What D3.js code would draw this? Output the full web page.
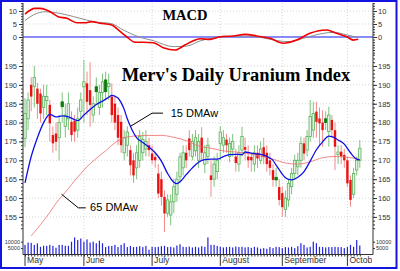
<!DOCTYPE html>
<html>
<head>
<meta charset="utf-8">
<script src="https://cdn.jsdelivr.net/npm/d3@7"></script>
<style>
  body { margin: 0; background: #fff; }
  svg { display: block; }
</style>
</head>
<body>
<div id="chart"></div>
<script>
// daily bars, one entry per trading day (May .. early October)
const open  = [175.8,181,190,189.5,189,187.7,184,185.8,184.7,176.7, 177.1,176,184.2,179,181,180.2,180.5,178,183,189.5,
               190.4,188.6,182,188.2,184,188,188.2,189.5,186.9,185, 182,180.2,172,174,172.7,170,168,170,172,173,
               174,171.8,170.9,166.5,165,160.3,156,155.5,159,161, 165.6,168,172,175.8,171,172.5,170,176,169,171,
               166,165,167,174.5,174,175.5,171,173,171,169, 172.7,173.5,171,170.9,169,172,170,173.5,172,170,
               167.4,164.8,162.9,161.3,157,159.5,163,166.5,168.3,170, 174.5,172.7,176.3,178,182.9,181.1,180,180,177.6,180.7,
               178,171.5,172.3,171.4,170,164.8,161,167.4,170];
const high  = [186.5,188,192,195,190.5,189,190,190,186,179, 180,182,188,185,188,183,182,184,188,196.6,
               193.5,196,187,192,190,193,193.5,193,190.4,187, 184,182,178,179,174,172,174,178,177.5,178,
               176,174,172,169,167,162,161,161,165,167, 172,174,174,178,177,178,177,178.8,174,176,
               170,171,172,179,178,177,176,177,173,174, 178.9,176,174,172,174,174,175,176,174,172,
               169,168,165,163,162,165,168,171.5,172,176.3, 176,178,186,185.5,185.5,184,183.3,183,184.2,182,
               180,174,174,173,171,166,168,171,175.4];
const low   = [173.5,178,183,184,181,180,181,182,175,172, 172.5,170,180,176,178,175,174.9,176,181,180,
               182,178.9,180,185,182,184,186,186,180,178, 174,172,170,171,166,164,165,168,170,171,
               171,169,168,160,158,151,155,152.8,156,159, 164,166,168,171,170,171,168,170,166.6,169,
               160.3,163,165,170,172,172,169.5,171,167,167, 171,170,168,167,167,168,169,169,167,166,
               163,163,158,155,155,157.7,161,165,166,168, 170,171,175,176,176,174,173.6,178,173.6,176,
               167.4,169,169,168,163,157.7,160,166,168];
const close = [182.4,186,186.9,192,185,182.4,187,186.9,179.8,174.5, 174.9,180,185.5,182,185,176.7,177.6,181,186,190.8,
               185.5,184.7,185,189.5,188,190.8,191.3,190.4,182,180, 176,174,176,177.5,168.7,166,172,176.3,175.5,175,
               172.7,170,170,161.2,160.3,155.9,159.5,159,163,165, 170.9,172,170,172.7,175,176,175,172,172,174,
               164.8,169,170,177.5,176,174,174.5,175,169.3,172, 176.3,172.8,170,170,172,170.5,173,170.9,169,168,
               164.8,165.5,159.5,157.6,160,163.9,166.5,170,170,174.5, 171.8,176.3,181.6,182.4,180.2,179.8,178,181,182,178,
               173.6,172.2,171,170,163.9,159.5,166.5,170,173.2];
const volume = [7500,9300,9100,7500,8700,6000,6800,6800,7500,6800, 5300,7500,7500,6800,6800,10000,13300,11300,12500,10000,
                11800,9300,10000,8800,10800,8800,5800,6700,6700,7500, 5800,7500,8800,5800,6700,5800,6000,6500,5800,6700,
                3700,6000,5800,6000,6500,6800,5800,6000,5500,7000, 8000,6000,5800,6200,5500,6000,5500,6500,6000,13300,
                7500,7500,6700,6000,5500,5800,6000,5500,6200,5800, 6000,5500,5800,5200,6000,5500,4500,5000,4500,5800,
                5000,6000,5800,5000,5800,5500,6000,5000,6500,8800, 7500,5500,6000,10000,8800,6000,5800,5500,5800,5800,
                6000,5800,5800,5000,5800,7500,6000,11300,7000];
// up days drawn with a solid dark green body
const darkUpDays = [12, 23, 26, 81, 97];

// moving averages: [day, value]
const ma15 = [[0,164],[2,171],[4,176],[6,180],[8,182.2],[10,181.5],[12,181.8],[14,181.5],[16,180.8],[17,180.5],
              [19,182],[21,183.5],[23,184.8],[25,185.7],[27,186.7],[28,187.2],[29,187],[30,186.5],[31,185.3],[32,183.5],
              [33,181],[34,179],[35,177.3],[36,176],[38,174.7],[40,173.5],[42,172],[44,169.8],[46,166.5],[48,164.2],
              [49,163.8],[50,164.3],[52,166.2],[54,168],[56,169.5],[58,170.2],[60,170.3],[62,170.3],[64,171],[66,171.5],
              [68,171.6],[70,171.5],[71,172.2],[73,171.9],[75,171.7],[77,171.4],[79,170.6],[80,170],[81,168.7],[82,167.5],
              [84,165.4],[86,164.8],[88,165.5],[90,167],[92,169.8],[94,172.8],[96,174.9],[98,176.4],[99,176.3],[101,175.4],
              [103,174.3],[105,172],[107,170.3],[108,170.1]];
const ma65 = [[2,150],[4,151.9],[6,154],[8,156.2],[10,158.6],[12,160.6],[14,162.5],[16,164.6],[18,166.5],[20,168.3],
              [22,169.8],[24,171.2],[26,172.5],[28,174],[30,175.2],[32,176],[34,176.3],[36,176.5],[40,176.6],[44,176.6],
              [48,176.1],[52,175.2],[56,173.8],[60,173.2],[64,172.5],[68,172.2],[72,171.8],[76,171.1],[80,170.3],[84,169.3],
              [88,169],[92,169.6],[96,170.7],[100,171],[104,170.8],[108,170.3]];

// MACD and its signal line: [day, value]
const macd = [[0,8.8],[3.2,11],[4.8,11],[6.5,10.6],[8.1,9.7],[10.7,7.8],[13.5,7.2],[16.7,5.5],[19.4,5.5],[21.5,5.9],
              [24.2,5.3],[28,4.6],[30.1,2.7],[32.8,0.1],[35.5,-2],[38.2,-2],[41.4,-2.2],[44.6,-4.1],[48.4,-5],[51.6,-3.1],
              [54.3,-1.4],[56.5,-0.7],[59.7,-0.9],[62.9,0.1],[67.2,0.4],[71,1],[74.7,0.4],[79,-0.5],[83.3,-2.4],[87.6,-1.2],
              [91.9,1.4],[97.3,2.7],[100.5,1.4],[103.8,0.1],[105.9,-1.2],[107.5,-0.9]];
const signal = [[0,6.3],[2.7,8.5],[6.5,9.7],[9.1,9.5],[13.5,8.5],[17.7,7.2],[22,5.9],[28,5.1],[31.7,2.7],[37.1,-0.1],
                [41.4,-1.4],[47.8,-3.7],[52.2,-3.5],[56.5,-1.5],[62.9,-0.1],[70.4,0.4],[75.8,-0.1],[81.2,-1.4],[85.5,-1.8],[89.8,-0.5],
                [96.2,1.4],[99.5,1.8],[103.8,0.8],[107,-0.1]];

const monthStarts = [0, 19, 41, 63, 83, 104];
const monthLabels = ["May", "June", "July", "August", "September", "October"];
const priceTicks = [155, 160, 165, 170, 175, 180, 185, 190, 195];
const macdTicks = [0, 5, 10];
const volTicks = [5000, 10000];

const width = 400, height = 271;
const plotLeft = 23, plotRight = 373, plotTop = 3, plotBottom = 254.5;

const svg = d3.select("#chart")
  .append("svg")
  .attr("width", width)
  .attr("height", height)
  .style("font-family", "Arial, 'Liberation Sans', sans-serif");

const xScale = d3.scaleLinear().domain([0, 108]).range([25, 25 + 3.1 * 108]);
const yPrice = d3.scaleLinear().domain([155, 195]).range([216.9, 66]);
const yMacd = d3.scaleLinear().domain([0, 10]).range([37, 11]);
const yVol = d3.scaleLinear().domain([0, 10000]).range([plotBottom, 241.7]);

// gridlines
const grid = svg.append("g")
  .attr("stroke", "#c4c4c4")
  .attr("stroke-width", 0.7)
  .attr("stroke-dasharray", "1,2");

grid.selectAll(".hp").data(priceTicks).enter().append("line")
  .attr("x1", plotLeft).attr("x2", plotRight)
  .attr("y1", d => yPrice(d)).attr("y2", d => yPrice(d));
grid.selectAll(".hm").data([5, 10]).enter().append("line")
  .attr("x1", plotLeft).attr("x2", plotRight)
  .attr("y1", d => yMacd(d)).attr("y2", d => yMacd(d));
grid.selectAll(".v").data(monthStarts.slice(1)).enter().append("line")
  .attr("x1", d => xScale(d)).attr("x2", d => xScale(d))
  .attr("y1", plotTop).attr("y2", plotBottom);

// MACD panel
svg.append("line")
  .attr("x1", plotLeft).attr("x2", plotRight)
  .attr("y1", yMacd(0)).attr("y2", yMacd(0))
  .attr("stroke", "#1818f0").attr("stroke-width", 1.2);

const macdLine = d3.line()
  .x(d => xScale(d[0]))
  .y(d => yMacd(d[1]))
  .curve(d3.curveMonotoneX);

svg.append("path").datum(signal)
  .attr("fill", "none").attr("stroke", "#8c8c8c").attr("stroke-width", 1)
  .attr("d", macdLine);
svg.append("path").datum(macd)
  .attr("fill", "none").attr("stroke", "#f00000").attr("stroke-width", 1.6)
  .attr("d", macdLine);

svg.append("text")
  .attr("x", 185).attr("y", 19.5)
  .attr("text-anchor", "middle")
  .style("font-family", "'Liberation Serif', 'Times New Roman', serif")
  .style("font-weight", "bold")
  .style("font-size", "14.5px")
  .text("MACD");

// volume bars
svg.selectAll(".vol")
  .data(volume)
  .enter()
  .append("rect")
  .attr("x", (d, i) => xScale(i) - 0.6)
  .attr("width", 1.2)
  .attr("y", d => yVol(d))
  .attr("height", d => plotBottom - yVol(d))
  .attr("fill", "#2424d8");

// candles
const days = d3.range(close.length);
const upColor = "#7cc47c", downColor = "#f08c8c";

svg.selectAll(".wick")
  .data(days)
  .enter()
  .append("line")
  .attr("x1", i => xScale(i)).attr("x2", i => xScale(i))
  .attr("y1", i => yPrice(high[i])).attr("y2", i => yPrice(low[i]))
  .attr("stroke", i => close[i] >= open[i] ? upColor : downColor)
  .attr("stroke-width", 1);

svg.selectAll(".body")
  .data(days)
  .enter()
  .append("rect")
  .attr("x", i => xScale(i) - 1.2)
  .attr("width", 2.4)
  .attr("y", i => yPrice(Math.max(open[i], close[i])))
  .attr("height", i => Math.max(1, Math.abs(yPrice(open[i]) - yPrice(close[i]))))
  .attr("fill", i => close[i] < open[i] ? "#ea1212" : darkUpDays.includes(i) ? "#0e7a0e" : "#e4f4e4")
  .attr("stroke", i => close[i] < open[i] ? "none" : darkUpDays.includes(i) ? "#0e7a0e" : "#5cb05c")
  .attr("stroke-width", 0.8);

// moving averages
const maLine = d3.line()
  .x(d => xScale(d[0]))
  .y(d => yPrice(d[1]))
  .curve(d3.curveMonotoneX);

svg.append("path").datum(ma65)
  .attr("fill", "none").attr("stroke", "#ee6a6a").attr("stroke-width", 0.8)
  .attr("d", maLine);
svg.append("path").datum(ma15)
  .attr("fill", "none").attr("stroke", "#1010e6").attr("stroke-width", 1.3)
  .attr("d", maLine);

// title and labels
svg.append("text")
  .attr("x", 236).attr("y", 80.5)
  .attr("text-anchor", "middle")
  .style("font-family", "'Liberation Serif', 'Times New Roman', serif")
  .style("font-weight", "bold")
  .style("font-size", "18.5px")
  .text("Merv's Daily Uranium Index");

const leader = d3.line().x(d => xScale(d[0])).y(d => yPrice(d[1]));

svg.append("path").datum([[34, 179], [41, 182.5], [44.5, 182.5]])
  .attr("fill", "none").attr("stroke", "#000").attr("stroke-width", 1)
  .attr("d", leader);
svg.append("text")
  .attr("x", xScale(47)).attr("y", yPrice(181.5))
  .style("font-size", "11px")
  .text("15 DMAw");

svg.append("path").datum([[11.8, 161], [17.2, 157.4], [19.6, 157.4]])
  .attr("fill", "none").attr("stroke", "#000").attr("stroke-width", 1)
  .attr("d", leader);
svg.append("text")
  .attr("x", xScale(21)).attr("y", yPrice(156.5))
  .style("font-size", "11px")
  .text("65 DMAw");

// axes
function styleAxis(g, size) {
  g.select(".domain").remove();
  g.selectAll("line").attr("stroke", "#333");
  g.selectAll("text").attr("fill", "#333").style("font-size", size + "px");
}

svg.append("g")
  .attr("transform", `translate(${plotLeft},0)`)
  .call(d3.axisLeft(yPrice).tickValues(d3.range(152, 199)).tickSize(2).tickFormat(""))
  .call(g => styleAxis(g, 7.5));
svg.append("g")
  .attr("transform", `translate(${plotRight},0)`)
  .call(d3.axisRight(yPrice).tickValues(d3.range(152, 199)).tickSize(2).tickFormat(""))
  .call(g => styleAxis(g, 7.5));
svg.append("g")
  .attr("transform", `translate(${plotLeft},0)`)
  .call(d3.axisLeft(yMacd).tickValues(d3.range(-6, 14)).tickSize(2).tickFormat(""))
  .call(g => styleAxis(g, 7.5));
svg.append("g")
  .attr("transform", `translate(${plotRight},0)`)
  .call(d3.axisRight(yMacd).tickValues(d3.range(-6, 14)).tickSize(2).tickFormat(""))
  .call(g => styleAxis(g, 7.5));

svg.append("g")
  .attr("transform", `translate(${plotLeft},0)`)
  .call(d3.axisLeft(yPrice).tickValues(priceTicks).tickSize(4).tickPadding(2))
  .call(g => styleAxis(g, 7.5));
svg.append("g")
  .attr("transform", `translate(${plotRight},0)`)
  .call(d3.axisRight(yPrice).tickValues(priceTicks).tickSize(4).tickPadding(1))
  .call(g => styleAxis(g, 7.5));
svg.append("g")
  .attr("transform", `translate(${plotLeft},0)`)
  .call(d3.axisLeft(yMacd).tickValues(macdTicks).tickSize(4).tickPadding(2))
  .call(g => styleAxis(g, 7.5));
svg.append("g")
  .attr("transform", `translate(${plotRight},0)`)
  .call(d3.axisRight(yMacd).tickValues(macdTicks).tickSize(4).tickPadding(1))
  .call(g => styleAxis(g, 7.5));
svg.append("g")
  .attr("transform", `translate(${plotLeft},0)`)
  .call(d3.axisLeft(yVol).tickValues(volTicks).tickSize(2).tickPadding(1).tickFormat(d3.format("d")))
  .call(g => styleAxis(g, 5.5));
svg.append("g")
  .attr("transform", `translate(${plotRight},0)`)
  .call(d3.axisRight(yVol).tickValues(volTicks).tickSize(2).tickPadding(1).tickFormat(d3.format("d")))
  .call(g => styleAxis(g, 5.5));

// axis frame lines
svg.append("path")
  .attr("d", `M${plotLeft},${plotTop}V${plotBottom}H${plotRight}V${plotTop}`)
  .attr("fill", "none").attr("stroke", "#333").attr("stroke-width", 1);

// x axis: a small tick every day, a long one at each month
svg.append("g")
  .attr("transform", `translate(0,${plotBottom})`)
  .call(d3.axisBottom(xScale).tickValues(days).tickSize(2).tickFormat(""))
  .call(g => styleAxis(g, 8));

svg.append("defs").append("clipPath").attr("id", "xclip")
  .append("rect").attr("x", 0).attr("y", plotBottom).attr("width", plotRight - 1).attr("height", 20);

const months = svg.append("g").attr("clip-path", "url(#xclip)");
months.selectAll(".mt").data(monthStarts).enter().append("line")
  .attr("x1", d => xScale(d)).attr("x2", d => xScale(d))
  .attr("y1", plotBottom).attr("y2", plotBottom + 11.5)
  .attr("stroke", "#333");
months.selectAll(".ml").data(monthStarts).enter().append("text")
  .attr("x", d => xScale(d) + 2)
  .attr("y", plotBottom + 8.7)
  .attr("fill", "#333")
  .style("font-size", "8.6px")
  .text((d, i) => monthLabels[i]);

// outer blue frame
svg.append("rect")
  .attr("x", 1).attr("y", 1)
  .attr("width", 395.5).attr("height", 267)
  .attr("fill", "none")
  .attr("stroke", "#1414e0")
  .attr("stroke-width", 2);
</script>
</body>
</html>
